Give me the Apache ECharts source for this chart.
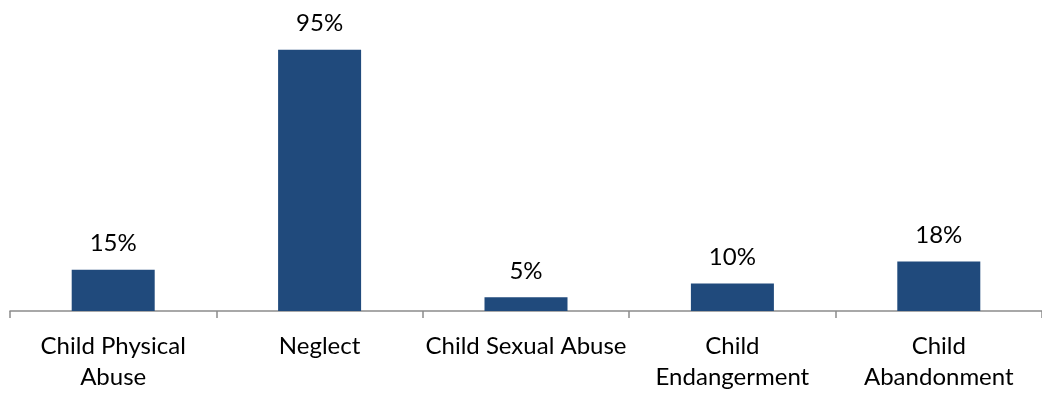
<!DOCTYPE html>
<html><head><meta charset="utf-8">
<script src="https://cdn.jsdelivr.net/npm/echarts@6/dist/echarts.min.js"></script>
<style>html,body{margin:0;padding:0;background:#fff}#c{width:1042px;height:393px}</style>
</head><body><div id="c"></div>
<script>
const categories = ["Child Physical\nAbuse", "Neglect", "Child Sexual Abuse", "Child\nEndangerment", "Child\nAbandonment"];
const values = [15, 95, 5, 10, 18];
const chart = echarts.init(document.getElementById('c'));
chart.setOption({
  animation: false,
  grid: {left: 10, width: 1040, top: 36, height: 279, containLabel: false},
  xAxis: {
    type: 'category', data: categories,
    axisLine: {lineStyle: {color: '#8c8c8c', width: 1.5}},
    axisTick: {show: true, length: 7, lineStyle: {color: '#8c8c8c', width: 1.5}},
    axisLabel: {color: '#000', fontFamily: 'Lato', fontSize: 24, margin: 20, lineHeight: 31, interval: 0}
  },
  yAxis: {type: 'value', min: 0, max: 100, show: false, splitLine: {show: false}},
  series: [{
    type: 'bar', data: values, barWidth: 83,
    itemStyle: {color: '#204a7c'},
    label: {show: true, position: 'top', distance: 14, formatter: '{c}%', color: '#000', fontFamily: 'Lato', fontSize: 24}
  }]
});
</script></body></html>
